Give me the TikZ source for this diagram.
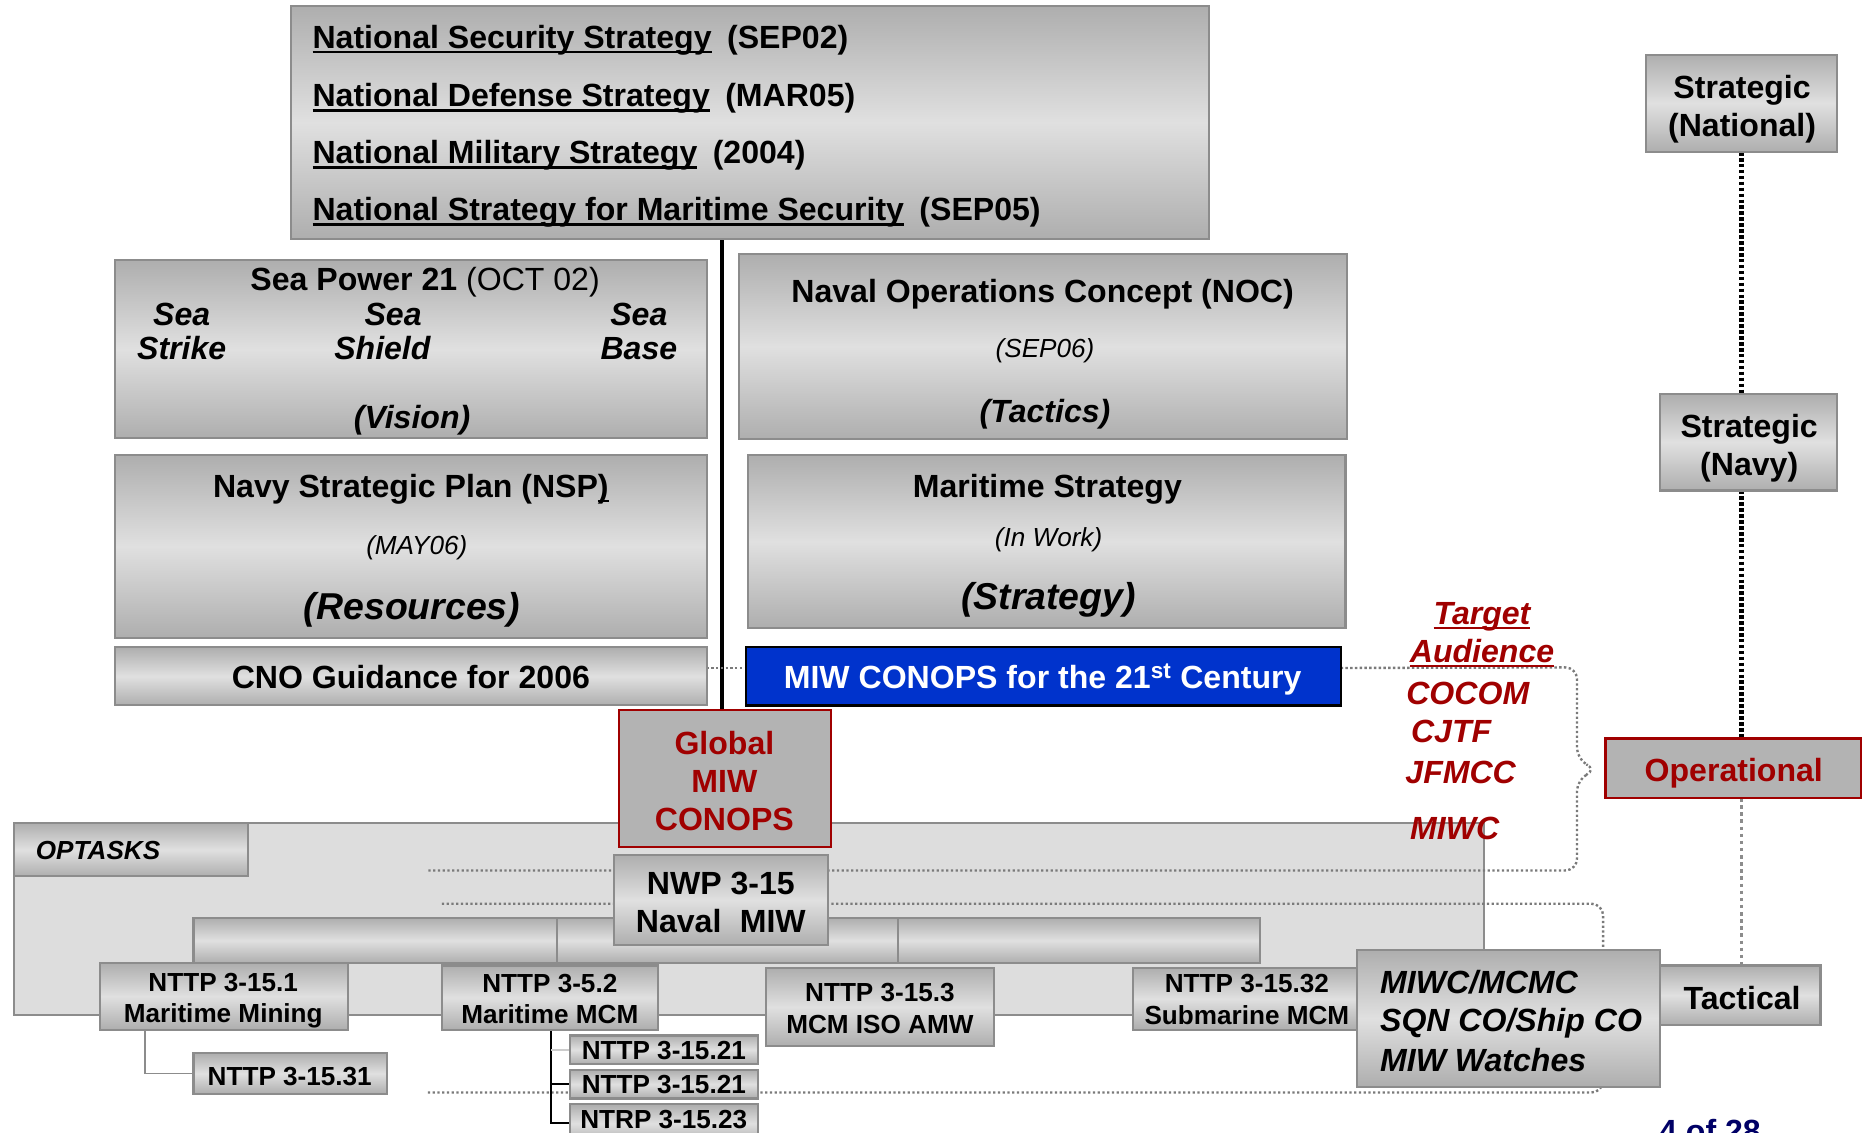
\documentclass[tikz,border=0pt]{standalone}
\usepackage{fontspec}
\setmainfont{Liberation Sans}
\usetikzlibrary{calc}
\pgfdeclarelayer{bg}
\pgfdeclarelayer{mid}
\pgfsetlayers{bg,mid,main}
\definecolor{bdark}{HTML}{AEAEAE}
\definecolor{blight}{HTML}{E0E0E0}
\definecolor{bline}{HTML}{8C8C8C}
\definecolor{dotc}{HTML}{7A7A7A}
\definecolor{dred}{HTML}{A00000}
\definecolor{mblue}{HTML}{0033CC}
\definecolor{optbg}{HTML}{DDDDDD}
\definecolor{flatg}{HTML}{B3B3B3}
\definecolor{navy}{HTML}{000066}
\newcommand\myul[1]{\setbox0\hbox{#1}\rlap{\rule[-4pt]{\wd0}{2.2pt}}\box0}
\newcommand\fs[1]{\fontsize{#1}{#1}\selectfont}
\newcommand\bx[6][gbox]{\node[#1, minimum width={(#5-#3)*1pt}, minimum height={(#6-#4)*1pt}] (#2) at ({(#3+#5)/2},{(#4+#6)/2}) {};}
\tikzset{
  gbox/.style={rectangle, draw=bline, line width=1.8pt, top color=bdark, bottom color=bdark, middle color=blight, inner sep=0pt, outer sep=0pt},
  redbox/.style={rectangle, draw=dred, line width=2pt, fill=flatg, inner sep=0pt, outer sep=0pt},
  bluebox/.style={rectangle, draw=black, line width=2pt, fill=mblue, inner sep=0pt, outer sep=0pt},
  bgbox/.style={rectangle, draw=bline, line width=1.6pt, fill=optbg, inner sep=0pt, outer sep=0pt},
  tx/.style={inner sep=0pt, anchor=base, font=\bfseries\fs{27}},
  txs/.style={inner sep=0pt, anchor=base, font=\bfseries\fs{22}},
  txl/.style={inner sep=0pt, anchor=base west, font=\bfseries\fs{27}},
  dotline/.style={draw=dotc, line width=2pt, dash pattern=on 2pt off 2pt, rounded corners=10pt},
  bdot/.style={draw=black, line width=3.5pt, dash pattern=on 3pt off 2pt},
  gdot/.style={draw=bline, line width=2.5pt, dash pattern=on 3pt off 3pt},
  conn/.style={draw=bline, line width=1.6pt},
  blk/.style={draw=black, line width=1.6pt},
  lgc/.style={draw=black!20, line width=1.6pt},
  red/.style={text=dred},
}
\begin{document}
\begin{tikzpicture}[x=1pt,y=-1pt]
\useasboundingbox (0,0) rectangle (1568,954);

% OPTASKS background region
\begin{pgfonlayer}{bg}
\bx[bgbox]{optbg}{12}{693}{1250}{855}
\end{pgfonlayer}

% main boxes (upper part)
\bx{top}{245}{5}{1018}{201}
\bx{sp21}{97}{219}{595}{369}
\bx{nsp}{97}{383}{595}{537}
\bx{cno}{97}{545}{595}{594}
\bx{noc}{622}{214}{1134}{370}
\bx{mars}{630}{383}{1133}{529}
\bx[bluebox]{miw21}{628}{545}{1129}{594}
\bx[redbox]{glob}{521}{598}{700}{713}

% connector bars
\bx{bar1}{163}{773}{469}{811}
\bx{bar2}{469}{773}{756}{811}
\bx{bar3}{756}{773}{1061}{811}

% lower boxes
\bx{optlbl}{12}{693}{209}{738}
\bx{nwp}{517}{720}{697}{796}
\bx{n151}{84}{811}{293}{867}
\bx{n352}{372}{813}{554}{867}
\bx{n153}{645}{815}{837}{881}
\bx{n1532}{954}{815}{1146}{867}
\bx{n1531}{163}{887}{326}{921}
\bx{n1521a}{480}{872}{638}{896}
\bx{n1521b}{480}{901}{638}{925}
\bx{n1523}{480}{930}{638}{962}
\bx{miwcb}{1143}{800}{1398}{915}
\bx{tact}{1398}{813}{1533}{863}

% right-hand levels
\bx{stnat}{1386}{46}{1547}{128}
\bx{stnavy}{1398}{332}{1547}{413}
\bx[redbox]{oper}{1352}{622}{1567}{672}

\begin{pgfonlayer}{mid}
% black trunk line
\draw[line width=3pt] ([xshift=-2.5pt]glob.north) -- ([xshift=-2.5pt]glob.north |- top.south);
% dotted braces
\coordinate (b1end) at (360,733);
\coordinate (b2start) at (372,761);
\coordinate (b2end) at (360,920);
\draw[dotline] ([yshift=7pt]cno.east) -- ([yshift=7pt]miw21.west);
\draw[dotline] ([yshift=7pt]miw21.east) -- (1328,562) -- (1328,640) -- (1345,648) -- (1328,656) -- (1328,733) -- (b1end);
\draw[dotline] (b2start) -- (1350,761) -- (1350,920) -- (b2end);
% tree connectors
\draw[conn] ($(n151.south west)+(38,0)$) |- (n1531.west);
\draw[blk] ($(n352.south west)+(92,0)$) |- (n1523.west);
\draw[blk] ($(n352.south west)+(92,0)$) |- (n1521b.west);
\draw[lgc] (n1521a.west) -- ++(-16,0);
% level line
\draw[bdot] (stnat.south) -- (stnat.south |- stnavy.north);
\draw[bdot] (stnavy.south -| stnat.south) -- (stnat.south |- oper.north);
\draw[gdot] (oper.south -| stnat.south) -- (stnat.south |- tact.north);
\end{pgfonlayer}

% ---- texts ----
\node[txl] (t1) at (263,41) {\myul{National Security Strategy}\hspace{13pt}(SEP02)};
\node[txl] (t2) at (263,90) {\myul{National Defense Strategy}\hspace{13pt}(MAR05)};
\node[txl] (t3) at (263,138) {\myul{National Military Strategy}\hspace{13pt}(2004)};
\node[txl] (t4) at (263,186) {\myul{National Strategy for Maritime Security}\hspace{13pt}(SEP05)};

\node[tx] (sp1) at (358,245) {Sea Power 21 \mdseries(OCT 02)};
\node[tx, font=\bfseries\itshape\fs{27}] (ss1) at (153,274) {Sea};
\node[tx, font=\bfseries\itshape\fs{27}] (ss2) at (153,303) {Strike};
\node[tx, font=\bfseries\itshape\fs{27}] (sh1) at (331,274) {Sea};
\node[tx, font=\bfseries\itshape\fs{27}] (sh2) at (322,303) {Shield};
\node[tx, font=\bfseries\itshape\fs{27}] (sb1) at (538,274) {Sea};
\node[tx, font=\bfseries\itshape\fs{27}] (sb2) at (538,303) {Base};
\node[tx, font=\bfseries\itshape\fs{27}] (vis) at (347,361) {(Vision)};

\node[tx] (nsp1) at (346,419) {Navy Strategic Plan (NSP\myul{)}};
\node[tx, font=\itshape\fs{22}] (nsp2) at (351,467) {(MAY06)};
\node[tx, font=\bfseries\itshape\fs{31.5}] (nsp3) at (347,522) {(Resources)};

\node[tx] (cnot) at (346,580) {CNO Guidance for 2006};

\node[tx] (noc1) at (878,255) {Naval Operations Concept (NOC)};
\node[tx, font=\itshape\fs{22}] (noc2) at (880,301) {(SEP06)};
\node[tx, font=\bfseries\itshape\fs{27}] (noc3) at (880,356) {(Tactics)};

\node[tx] (ms1) at (882,419) {Maritime Strategy};
\node[tx, font=\itshape\fs{22}] (ms2) at (883,460) {(In Work)};
\node[tx, font=\bfseries\itshape\fs{31.5}] (ms3) at (883,513) {(Strategy)};

\node[tx, text=white] (miwt) at (878,580) {MIW CONOPS for the 21\textsuperscript{st} Century};

\node[tx, red] (g1) at (610,635) {Global};
\node[tx, red] (g2) at (610,667) {MIW};
\node[tx, red] (g3) at (610,699) {CONOPS};

\node[txs, anchor=base west, font=\bfseries\itshape\fs{22}] (optt) at (30,724) {OPTASKS};

\node[tx] (nw1) at (607,753) {NWP 3-15};
\node[tx] (nw2) at (607,785) {Naval\hspace{8pt} MIW};

\node[txs] (a1) at (188,835) {NTTP 3-15.1};
\node[txs] (a2) at (188,861) {Maritime Mining};
\node[txs] (b1) at (463,836) {NTTP 3-5.2};
\node[txs] (b2) at (463,862) {Maritime MCM};
\node[txs] (c1) at (741,843) {NTTP 3-15.3};
\node[txs] (c2) at (741,870) {MCM ISO AMW};
\node[txs] (d1) at (1050,836) {NTTP 3-15.32};
\node[txs] (d2) at (1050,863) {Submarine MCM};
\node[txs] (e1) at (244,914) {NTTP 3-15.31};
\node[txs] (f1) at (559,892) {NTTP 3-15.21};
\node[txs] (f2) at (559,921) {NTTP 3-15.21};
\node[txs] (f3) at (559,950) {NTRP 3-15.23};

\node[txl, font=\bfseries\itshape\fs{27}] (m1) at (1162,837) {MIWC/MCMC};
\node[txl, font=\bfseries\itshape\fs{27}] (m2) at (1162,869) {SQN CO/Ship CO};
\node[txl, font=\bfseries\itshape\fs{27}] (m3) at (1162,902) {MIW Watches};
\node[tx] (tac) at (1467,850) {Tactical};

\node[tx] (sn1) at (1467,83) {Strategic};
\node[tx] (sn2) at (1467,115) {(National)};
\node[tx] (sv1) at (1473,368) {Strategic};
\node[tx] (sv2) at (1473,400) {(Navy)};
\node[tx, red] (opt) at (1460,658) {Operational};

\node[tx, red, font=\bfseries\itshape\fs{27}] (ta1) at (1248,526) {\myul{Target}};
\node[tx, red, font=\bfseries\itshape\fs{27}] (ta2) at (1248,558) {\myul{Audience}};
\node[tx, red, font=\bfseries\itshape\fs{27}] (ta3) at (1236,593) {COCOM};
\node[tx, red, font=\bfseries\itshape\fs{27}] (ta4) at (1222,625) {CJTF};
\node[tx, red, font=\bfseries\itshape\fs{27}] (ta5) at (1230,660) {JFMCC};
\node[tx, red, font=\bfseries\itshape\fs{27}] (ta6) at (1225,707) {MIWC};

\node[tx, text=navy] (pg) at (1440,962) {4 of 28};
\end{tikzpicture}
\end{document}
